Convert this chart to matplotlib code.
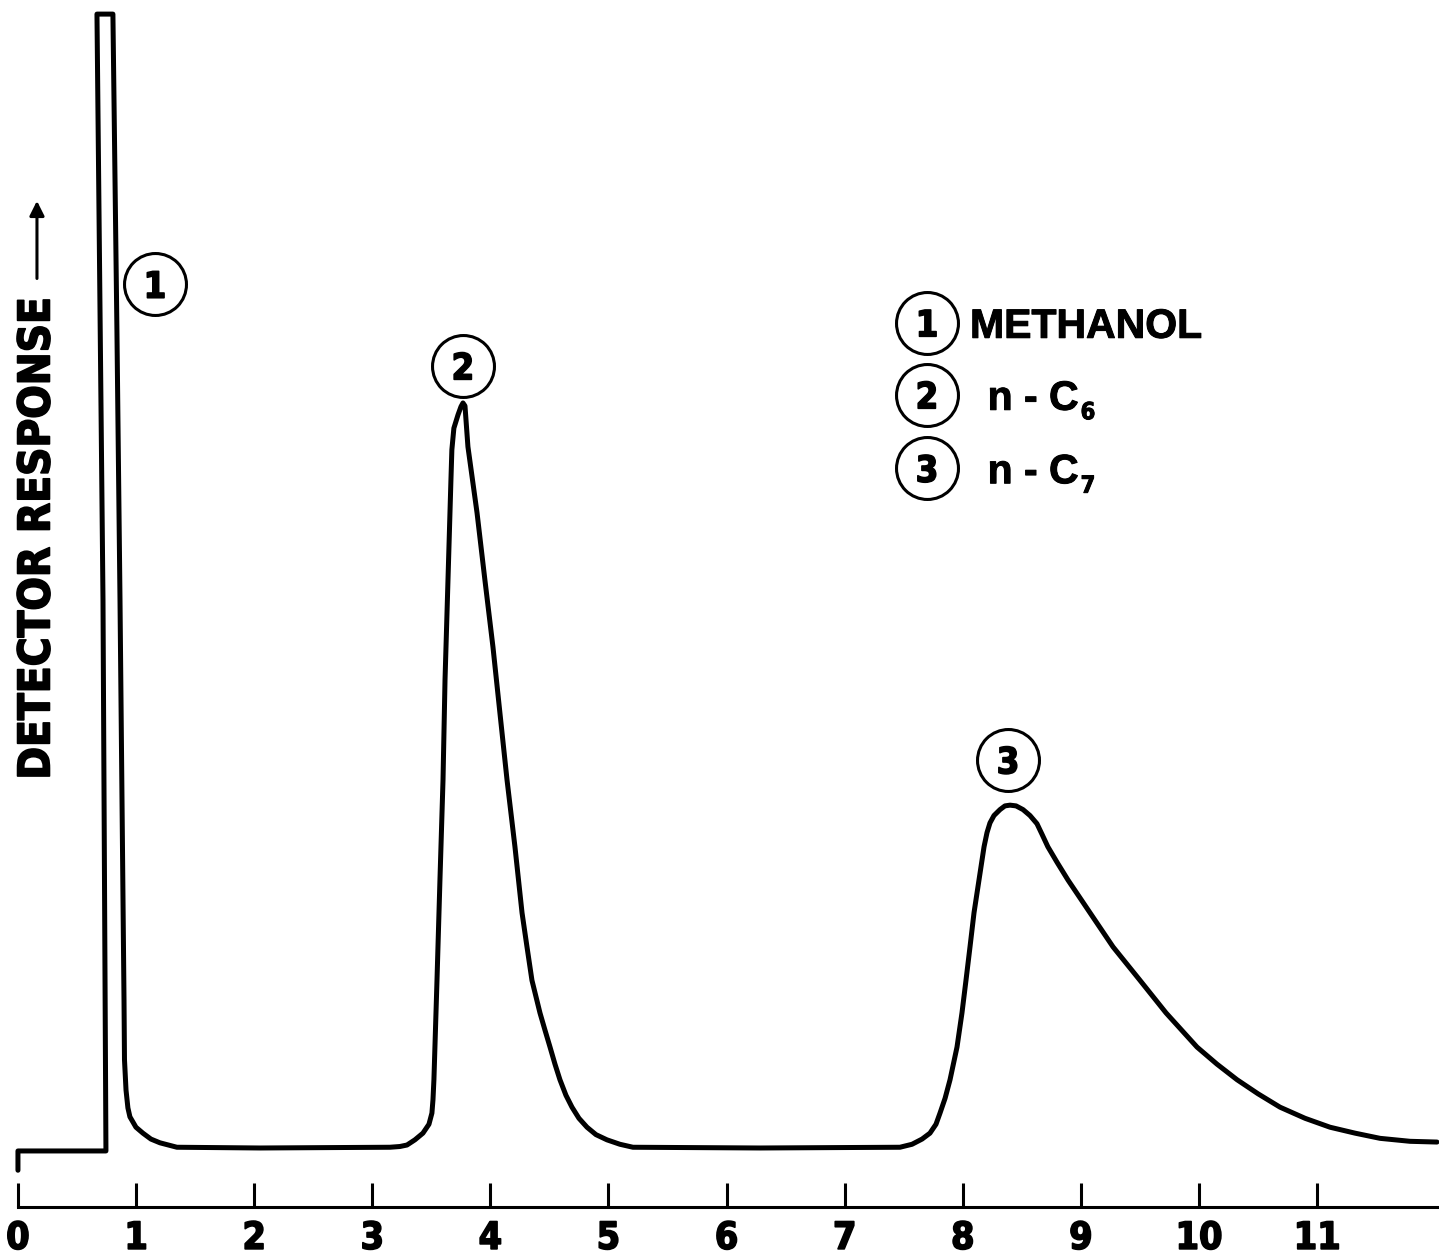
import matplotlib.pyplot as plt
from matplotlib import font_manager
import matplotlib.patheffects as pe

# ---- chromatogram trace ----
# time in minutes, detector response (peak 2 ~ 100)
time_min = [0.0, 0.0, 0.745, 0.72, 0.669, 0.804, 0.838, 0.864, 0.881, 0.898,
            0.902, 0.915, 0.931, 0.948, 0.999, 1.058, 1.126, 1.202, 1.346, 2.05,
            3.15, 3.234, 3.294, 3.361, 3.429, 3.480, 3.505, 3.514, 3.522,
            3.548, 3.573, 3.599, 3.616, 3.641, 3.666, 3.674, 3.691, 3.726, 3.751,
            3.768, 3.785, 3.810, 3.887, 3.954, 4.022, 4.081, 4.141, 4.208, 4.268,
            4.310, 4.352, 4.386, 4.420, 4.462, 4.505, 4.547, 4.589, 4.640, 4.691,
            4.750, 4.818, 4.894, 4.987, 5.097, 5.207, 6.283, 7.468,
            7.570, 7.655, 7.722, 7.773, 7.807, 7.850, 7.892, 7.951, 7.993, 8.027,
            8.061, 8.095, 8.137, 8.180, 8.205, 8.230, 8.264, 8.315, 8.357, 8.400,
            8.451, 8.510, 8.569, 8.628, 8.670, 8.720, 8.798, 8.891, 9.077, 9.272,
            9.500, 9.721, 9.983, 10.152, 10.322, 10.500, 10.686, 10.898, 11.109,
            11.321, 11.533, 11.787, 12.015]
response = [-3.0, -0.4, -0.4, 73.9, 152.8, 152.8, 110.2, 73.9, 46.9, 19.9,
            11.9, 7.8, 5.4, 4.2, 2.8, 2.0, 1.2, 0.7, 0.1, 0.0,
            0.1, 0.2, 0.4, 1.1, 2.0, 3.2, 4.7, 6.5, 9.2,
            22.6, 36.1, 49.6, 63.1, 76.5, 90.0, 94.1, 97.0, 98.8, 99.9,
            100.4, 100.0, 94.5, 85.6, 76.5, 67.5, 58.6, 49.6, 40.6, 31.7,
            27.1, 22.6, 20.4, 18.2, 15.9, 13.6, 11.3, 9.2, 7.1, 5.5,
            4.0, 2.8, 1.8, 1.1, 0.5, 0.1, 0.0, 0.1,
            0.5, 1.2, 2.0, 3.2, 4.7, 6.7, 9.2, 13.6, 18.2, 22.6,
            27.1, 31.7, 36.1, 40.6, 42.5, 43.8, 44.8, 45.6, 46.1, 46.2,
            46.1, 45.6, 44.8, 43.7, 42.3, 40.6, 38.5, 36.1, 31.7, 27.1,
            22.6, 18.2, 13.6, 11.3, 9.2, 7.3, 5.5, 4.0, 2.8,
            2.0, 1.3, 0.9, 0.8]

# peak labels (circled numbers)
peak_ids = ['1', '2', '3']
peak_t = [1.160, 3.768, 8.383]
peak_r = [116.4, 105.4, 52.3]

# legend
legend_ids = ['1', '2', '3']
legend_names = ['METHANOL', 'n - C', 'n - C']
legend_subs = ['', '6', '7']
legend_r = [111.2, 101.5, 91.6]

tick_vals = list(range(12))
tick_labels = [str(v) for v in tick_vals]

# use a condensed face for the digits if one is installed
fonts = font_manager.fontManager.ttflist
names = {f.name for f in fonts}
narrow_kw = dict(family=['Liberation Sans', 'DejaVu Sans'])
if 'Liberation Sans Narrow' in names:
    narrow_kw = dict(family=['Liberation Sans Narrow', 'Liberation Sans'])
elif any(f.name == 'DejaVu Sans' and f.stretch == 'condensed' for f in fonts):
    narrow_kw = dict(family=['DejaVu Sans'], stretch='condensed')
bold = ['Liberation Sans', 'DejaVu Sans']
heavy = [pe.withStroke(linewidth=1.2, foreground='black')]
semi = [pe.withStroke(linewidth=0.7, foreground='black')]

fig = plt.figure(figsize=(14.39, 12.57), dpi=100)
ax = fig.add_axes([0, 0, 1, 1])
ax.set_xlim(-0.152, 12.032)
ax.set_ylim(-14.69, 154.7)

ax.plot(time_min, response, color='black', lw=3.6,
        solid_joinstyle='round', solid_capstyle='round')

# axis: only the bottom spine with upward ticks
for s in ['top', 'right', 'left']:
    ax.spines[s].set_visible(False)
ax.spines['bottom'].set_position(('data', -7.95))
ax.spines['bottom'].set_bounds(0, 12.1)
ax.spines['bottom'].set_linewidth(2.2)
ax.set_yticks([])
ax.set_xticks(tick_vals)
ax.set_xticklabels(tick_labels)
ax.tick_params(axis='x', direction='in', length=17, width=2.2, pad=10)
for lab in ax.get_xticklabels():
    lab.set(fontweight='bold', fontsize=27, path_effects=heavy, **narrow_kw)

# circled peak numbers
for pid, t, r in zip(peak_ids, peak_t, peak_r):
    ax.plot(t, r, 'o', ms=44.6, mfc='none', mec='black', mew=2.2)
    ax.text(t, r, pid, ha='center', va='center_baseline', fontsize=26,
            fontweight='bold', path_effects=heavy, **narrow_kw)

# legend
for pid, name, sub, r in zip(legend_ids, legend_names, legend_subs, legend_r):
    ax.plot(7.697, r, 'o', ms=44.6, mfc='none', mec='black', mew=2.2)
    ax.text(7.697, r, pid, ha='center', va='center_baseline', fontsize=26,
            fontweight='bold', path_effects=heavy, **narrow_kw)
    x0 = 8.061 if name == 'METHANOL' else 8.21
    txt = ax.text(x0, r, name, ha='left', va='center_baseline', fontsize=29.5,
                  fontweight='bold', family=bold, path_effects=semi)
    if sub:
        ax.annotate(sub, xy=(1.0, 0.0), xycoords=txt, xytext=(1.5, 4),
                    textcoords='offset points', ha='left', va='center',
                    fontsize=17, fontweight='bold', path_effects=semi,
                    **narrow_kw)

# y label with arrow
ax.text(0.161, 82.2, 'DETECTOR RESPONSE', rotation=90, ha='center', va='center',
        fontsize=31.5, fontweight='bold', path_effects=heavy, **narrow_kw)
ax.annotate('', xy=(0.161, 128.0), xytext=(0.161, 116.8),
            arrowprops=dict(arrowstyle='-|>', color='black', lw=2.2,
                            mutation_scale=22))

fig.savefig('out.png', dpi=100)
